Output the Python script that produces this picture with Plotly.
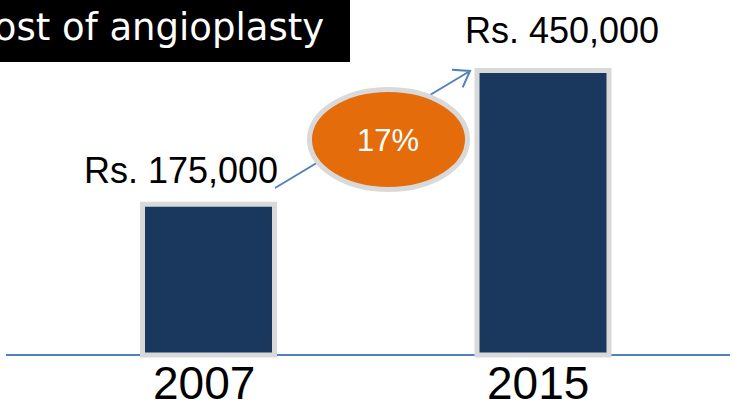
import plotly.graph_objects as go

# ---- data ----
years = ["2007", "2015"]
costs = [175000, 450000]
value_labels = ["Rs. 175,000", "Rs. 450,000"]
growth_label = "17%"
title_text = "Cost of angioplasty"

# ---- styling / layout constants ----
W, H = 732, 404
BASE = -135100          # visual baseline offset (chart drawn not to scale)
NAVY = "#1a375e"
BORDER = "#d9d9d9"
ORANGE = "#e46c0a"
BLUE = "#4f81bd"
SANS = "Liberation Sans, Arial, sans-serif"
TITLE_FONT = "DejaVu Sans, sans-serif"


def px(x):
    return x / W


def py(y):
    return 1 - y / H


fig = go.Figure(
    go.Bar(
        x=years,
        y=[c - BASE for c in costs],
        base=BASE,
        width=0.3946,
        marker=dict(color=NAVY, line=dict(color=BORDER, width=5)),
        hoverinfo="skip",
    )
)

shapes = []
# baseline
shapes.append(dict(type="line", xref="paper", yref="y", x0=px(6), x1=px(730),
                   y0=BASE, y1=BASE, line=dict(color=BLUE, width=2), layer="below"))
# title box
shapes.append(dict(type="rect", xref="paper", yref="paper", x0=-0.01, x1=px(350),
                   y0=py(62), y1=1.01, fillcolor="black", line=dict(width=0), layer="above"))
# growth arrow (line + open chevron)
tail = (275, 188)
tip = (470, 71)
arm1 = (462.7, 87.4)
arm2 = (452, 69.7)
path = (f"M {px(tail[0])},{py(tail[1])} L {px(tip[0])},{py(tip[1])} "
        f"M {px(arm2[0])},{py(arm2[1])} L {px(tip[0])},{py(tip[1])} L {px(arm1[0])},{py(arm1[1])}")
shapes.append(dict(type="path", xref="paper", yref="paper", path=path,
                   line=dict(color=BLUE, width=2), layer="above"))
# growth ellipse
shapes.append(dict(type="circle", xref="paper", yref="paper",
                   x0=px(309.5), x1=px(467.5), y0=py(189.5), y1=py(89.5),
                   fillcolor=ORANGE, line=dict(color=BORDER, width=5), layer="above"))

annotations = []
annotations.append(dict(xref="paper", yref="paper", x=px(326), y=py(27),
                        xanchor="right", yanchor="middle", showarrow=False,
                        text=title_text, font=dict(family=TITLE_FONT, size=37, color="white")))
annotations.append(dict(xref="paper", yref="paper", x=px(388.5), y=py(140.5),
                        xanchor="center", yanchor="middle", showarrow=False,
                        text=growth_label, font=dict(family=SANS, size=31, color="white")))
label_shift = [(-27.5, 34), (18.5, 40)]
for i, (c, lab, (dx, dy)) in enumerate(zip(costs, value_labels, label_shift)):
    annotations.append(dict(x=i, y=c, xref="x", yref="y", text=lab, showarrow=False,
                            xanchor="center", yanchor="middle", xshift=dx, yshift=dy,
                            font=dict(family=SANS, size=36, color="black")))
for i, yr in enumerate(years):
    annotations.append(dict(x=i, y=BASE, xref="x", yref="y", text=yr, showarrow=False,
                            xanchor="center", yanchor="middle", xshift=-5, yshift=-28,
                            font=dict(family=SANS, size=46, color="black")))

fig.update_layout(
    width=W, height=H,
    margin=dict(l=0, r=0, t=0, b=0),
    paper_bgcolor="white", plot_bgcolor="white",
    showlegend=False,
    xaxis=dict(visible=False, type="category", range=[-0.6233, 1.565]),
    yaxis=dict(visible=False, range=[-235873, 594990]),
    shapes=shapes,
    annotations=annotations,
)

fig.write_html("out.html", config={"displayModeBar": False},
               post_script="document.body.style.margin='0';")
